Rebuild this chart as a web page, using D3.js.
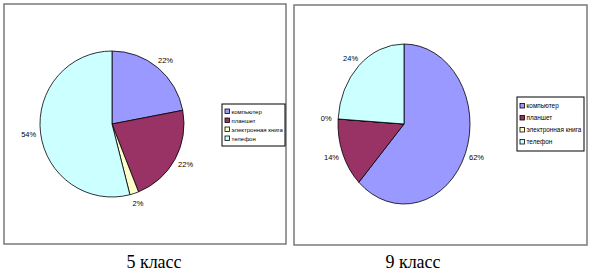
<!DOCTYPE html>
<html>
<head>
<meta charset="utf-8">
<script src="https://cdn.jsdelivr.net/npm/d3@7"></script>
<style>
  body { margin: 0; background: #fff; }
  svg { display: block; }
</style>
</head>
<body>
<div id="wrapper"></div>
<script>
var categories = ["компьютер", "планшет", "электронная книга", "телефон"];
var colors = ["#9999FF", "#993366", "#FFFFCC", "#CCFFFF"];
var class5Values = [22, 22, 2, 54];
var class9Values = [62, 14, 0, 24];
var captions = ["5 класс", "9 класс"];

var svg = d3.select("#wrapper").append("svg")
    .attr("width", 593)
    .attr("height", 275);

var panels = [
  {values: class5Values, box: [4, 4, 282, 240], cx: 112, cy: 124, rx: 72, ry: 73,
   legend: [222, 104, 63, 42], legendFont: 6, capX: 154},
  {values: class9Values, box: [294, 5, 293, 240], cx: 404, cy: 124, rx: 66, ry: 80,
   legend: [517, 97, 67, 54], legendFont: 6.4, capX: 413}
];

var pie = d3.pie().sort(null).value(function(d) { return d; });

panels.forEach(function(p, k) {
  var g = svg.append("g");

  // frame
  g.append("rect")
    .attr("x", p.box[0]).attr("y", p.box[1])
    .attr("width", p.box[2]).attr("height", p.box[3])
    .attr("fill", "#fff")
    .attr("stroke", "#7a7a7a")
    .attr("stroke-width", 1.5);

  var arcs = pie(p.values);
  var arc = d3.arc().innerRadius(0).outerRadius(p.ry);

  var pieG = g.append("g")
    .attr("transform", "translate(" + p.cx + "," + p.cy + ") scale(" + (p.rx / p.ry) + ",1)");

  pieG.selectAll("path")
    .data(arcs)
    .enter()
    .append("path")
    .attr("d", arc)
    .attr("fill", function(d, i) { return colors[i]; })
    .attr("stroke", "#000")
    .attr("stroke-width", 0.8)
    .attr("vector-effect", "non-scaling-stroke");

  // percent labels just outside the pie
  g.selectAll("text.label")
    .data(arcs)
    .enter()
    .append("text")
    .attr("class", "label")
    .attr("x", function(d) {
      var a = (d.startAngle + d.endAngle) / 2;
      return p.cx + Math.sin(a) * (p.rx + 12);
    })
    .attr("y", function(d) {
      var a = (d.startAngle + d.endAngle) / 2;
      return p.cy - Math.cos(a) * (p.ry + 10);
    })
    .attr("dy", "0.35em")
    .attr("text-anchor", "middle")
    .style("font-family", "Liberation Sans, Arial, sans-serif")
    .style("font-size", "7.5px")
    .style("fill", "#000")
    .text(function(d) { return d.data + "%"; });

  // legend
  var L = p.legend;
  g.append("rect")
    .attr("x", L[0]).attr("y", L[1])
    .attr("width", L[2]).attr("height", L[3])
    .attr("fill", "#fff")
    .attr("stroke", "#000")
    .attr("stroke-width", 1);

  var step = (L[3] - 6) / categories.length;
  var item = g.selectAll("g.item")
    .data(categories)
    .enter()
    .append("g")
    .attr("class", "item")
    .attr("transform", function(d, i) {
      return "translate(" + (L[0] + 3) + "," + (L[1] + 3 + step * (i + 0.5)) + ")";
    });

  item.append("rect")
    .attr("x", 0).attr("y", -2.5)
    .attr("width", 4.5).attr("height", 4.5)
    .attr("fill", function(d, i) { return colors[i]; })
    .attr("stroke", "#000")
    .attr("stroke-width", 0.8);

  item.append("text")
    .attr("x", 6.5)
    .attr("dy", "0.35em")
    .style("font-family", "Liberation Sans, Arial, sans-serif")
    .style("font-size", p.legendFont + "px")
    .style("fill", "#000")
    .text(function(d) { return d; });

  // caption under panel
  svg.append("text")
    .attr("x", p.capX)
    .attr("y", 268)
    .attr("text-anchor", "middle")
    .style("font-family", "Liberation Serif, Times New Roman, serif")
    .style("font-size", "18px")
    .style("fill", "#000")
    .text(captions[k]);
});
</script>
</body>
</html>
